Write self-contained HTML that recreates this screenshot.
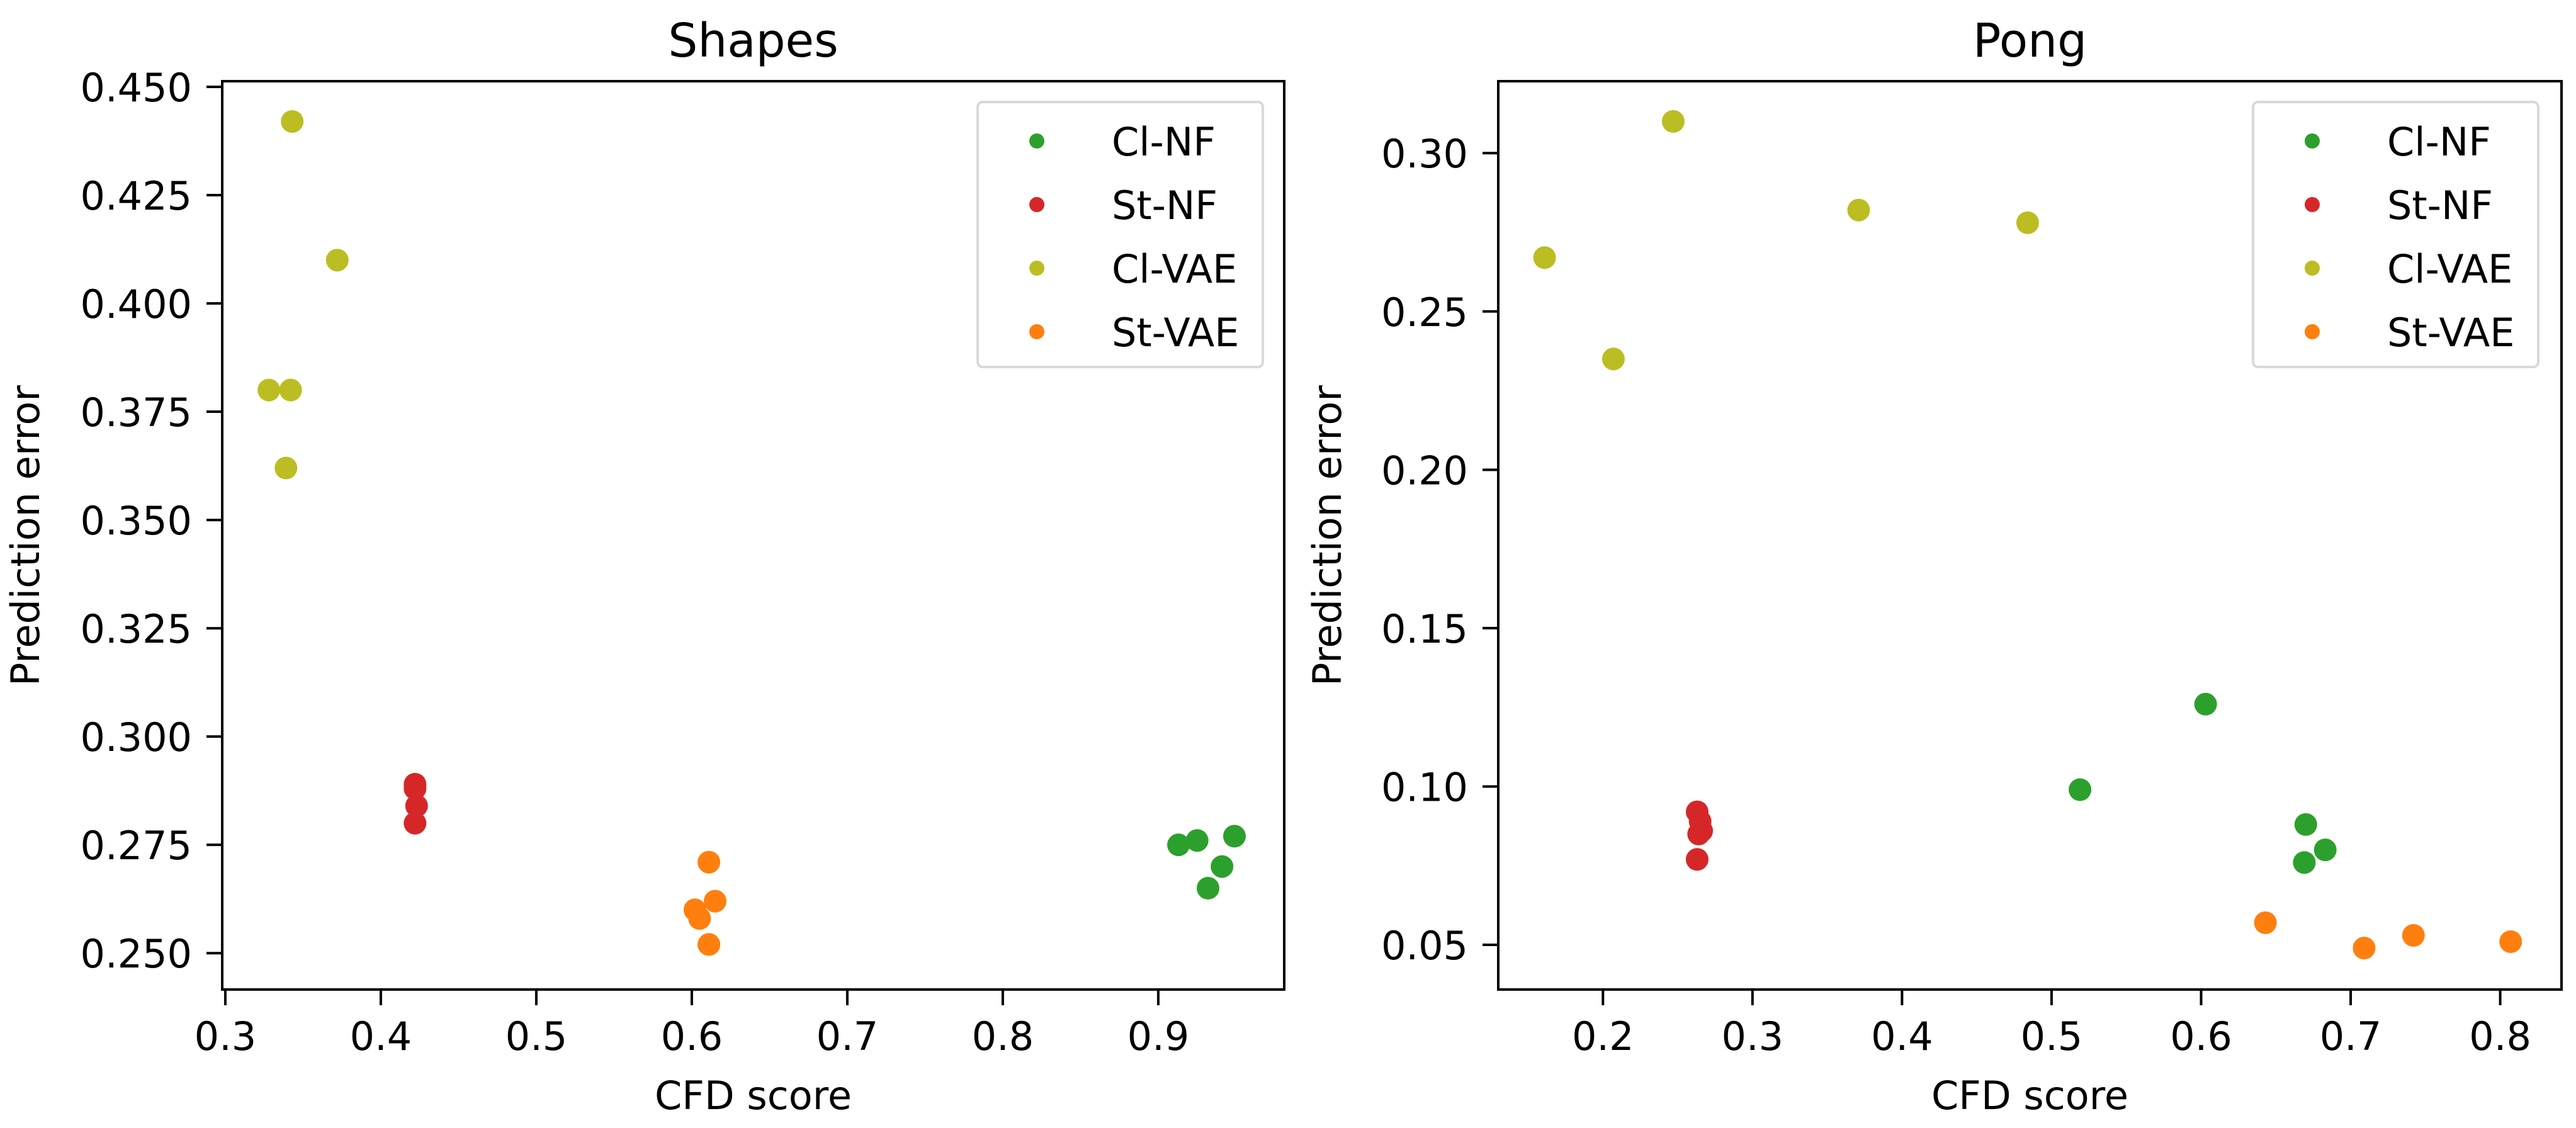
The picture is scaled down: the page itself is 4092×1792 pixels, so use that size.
<!DOCTYPE html>
<html><head><meta charset="utf-8"><style>
html,body{margin:0;padding:0;background:#fff;}
svg{display:block;font-family:"DejaVu Sans","Liberation Sans",sans-serif;}
</style></head><body>
<svg id="fig" width="4092" height="1792" viewBox="0 0 4092 1792" xmlns="http://www.w3.org/2000/svg"></svg>
<script>
const seriesNames = ["Cl-NF","St-NF","Cl-VAE","St-VAE"];
const seriesColors = ["#2ca02c","#d62728","#bcbd22","#ff7f0e"];
// Shapes data
const shapesClNFx = [0.913,0.925,0.949,0.941,0.932];
const shapesClNFy = [0.275,0.276,0.277,0.270,0.265];
const shapesStNFx = [0.422,0.422,0.423,0.422];
const shapesStNFy = [0.289,0.288,0.284,0.280];
const shapesClVAEx = [0.343,0.372,0.328,0.342,0.339];
const shapesClVAEy = [0.442,0.410,0.380,0.380,0.362];
const shapesStVAEx = [0.611,0.615,0.602,0.605,0.611];
const shapesStVAEy = [0.271,0.262,0.260,0.258,0.252];
const shapesXTicks = [0.3,0.4,0.5,0.6,0.7,0.8,0.9];
const shapesYTicks = [0.250,0.275,0.300,0.325,0.350,0.375,0.400,0.425,0.450];
// Pong data
const pongClNFx = [0.603,0.519,0.670,0.683,0.669];
const pongClNFy = [0.126,0.099,0.088,0.080,0.076];
const pongStNFx = [0.263,0.265,0.266,0.264,0.263];
const pongStNFy = [0.092,0.089,0.086,0.085,0.077];
const pongClVAEx = [0.247,0.161,0.207,0.371,0.484];
const pongClVAEy = [0.310,0.267,0.235,0.282,0.278];
const pongStVAEx = [0.643,0.709,0.742,0.807];
const pongStVAEy = [0.057,0.049,0.053,0.051];
const pongXTicks = [0.2,0.3,0.4,0.5,0.6,0.7,0.8];
const pongYTicks = [0.05,0.10,0.15,0.20,0.25,0.30];

const NS="http://www.w3.org/2000/svg";
const svg=document.getElementById('fig');
function mk(tag,attrs,parent,text){const e=document.createElementNS(NS,tag);for(const k in attrs)e.setAttribute(k,attrs[k]);if(text!==undefined)e.textContent=text;(parent||svg).appendChild(e);return e;}

function panel(cfg){
  const g=mk('g',{});
  
  
  const L=cfg.left,R=cfg.right,T=129,B=1572;
  const sx=v=>L+(v-cfg.xmin)/(cfg.xmax-cfg.xmin)*(R-L);
  const sy=v=>B-(v-cfg.ymin)/(cfg.ymax-cfg.ymin)*(B-T);
  // points
  cfg.series.forEach((s,i)=>{
    for(let j=0;j<s[0].length;j++){
      const c=mk('circle',{cx:sx(s[0][j]),cy:sy(s[1][j]),r:18,fill:seriesColors[i]},g);
      
      
    }
  });
  // frame
  const fr=mk('rect',{x:L,y:T,width:R-L,height:B-T,fill:'none',stroke:'#000','stroke-width':4},g);
  
  
  cfg.xt.forEach(v=>{
    const x=sx(v);
    mk('line',{x1:x,y1:B,x2:x,y2:B+25,stroke:'#000','stroke-width':4},g);
    const t=mk('text',{x:x,y:1668,'font-size':62,'text-anchor':'middle',fill:'#000'},g,v.toFixed(1));
    
    
  });
  cfg.yt.forEach(v=>{
    const y=sy(v);
    mk('line',{x1:L,y1:y,x2:L-25,y2:y,stroke:'#000','stroke-width':4},g);
    const t=mk('text',{x:L-48,y:y+23,'font-size':62,'text-anchor':'end',fill:'#000'},g,v.toFixed(cfg.yd));
    
    
  });
  const xl=mk('text',{x:(L+R)/2,y:1762,'font-size':62,'text-anchor':'middle'},g,'CFD score');
  
  
  const yl=mk('text',{x:0,y:0,'font-size':62,'text-anchor':'middle',transform:`translate(${cfg.ylx},851) rotate(-90)`},g,'Prediction error');
  
  
  const ti=mk('text',{x:(L+R)/2,y:90,'font-size':74,'text-anchor':'middle'},g,cfg.title);
  
  
  // legend
  const lg=mk('g',{},g);
  
  
  mk('rect',{x:cfg.lgx,y:162,width:453,height:421,rx:8,fill:'#fff',stroke:'#d9d9d9','stroke-width':4},lg);
  seriesNames.forEach((n,i)=>{
    const y=224+i*101;
    const e=mk('g',{},lg);
    
    
    mk('circle',{cx:cfg.lgx+94,cy:y,r:12,fill:seriesColors[i]},e);
    mk('text',{x:cfg.lgx+213,y:y+23,'font-size':62},e,n);
  });
}
panel({id:'shapes',title:'Shapes',left:353,right:2040,xmin:0.298,xmax:0.981,ymin:0.2416,ymax:0.4513,
  series:[[shapesClNFx,shapesClNFy],[shapesStNFx,shapesStNFy],[shapesClVAEx,shapesClVAEy],[shapesStVAEx,shapesStVAEy]],
  xt:shapesXTicks,yt:shapesYTicks,yd:3,ylx:62,lgx:1553});
panel({id:'pong',title:'Pong',left:2380,right:4069,xmin:0.130,xmax:0.841,ymin:0.0359,ymax:0.3227,
  series:[[pongClNFx,pongClNFy],[pongStNFx,pongStNFy],[pongClVAEx,pongClVAEy],[pongStVAEx,pongStVAEy]],
  xt:pongXTicks,yt:pongYTicks,yd:2,ylx:2130,lgx:3579});
</script>
</body></html>
